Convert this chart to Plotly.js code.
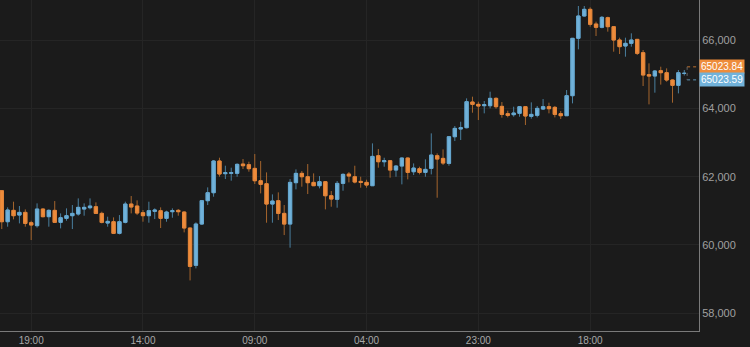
<!DOCTYPE html>
<html>
<head>
<meta charset="utf-8">
<script src="https://cdn.plot.ly/plotly-3.0.1.min.js"></script>
<style>html,body{margin:0;padding:0;background:#1b1b1b;}#chart{width:750px;height:347px;}</style>
</head>
<body>
<div id="chart"></div>
<script>
// Hourly candles (index 0 = 14:00 of the first day)
const openP = [61589,60681,61013,60876,60954,60652,60564,61052,60828,61013,
  60662,60779,60857,60906,61052,61091,61120,60925,60642,60681,
  60340,60662,61198,61140,60945,60857,60984,61003,60779,60974,
  61013,60964,60496,59403,60613,61296,61530,62458,62087,62097,
  62096,62369,62350,62242,61881,61793,61198,61296,60925,60612,
  61823,62096,61998,61832,61735,61852,61442,61335,61803,62076,
  61998,61861,61832,61735,62613,62437,62466,62193,62310,62545,
  62144,62232,62125,62242,62613,62535,62388,63169,63394,63433,
  64184,64116,64077,64077,64292,64058,63843,63814,63853,64048,
  63765,63794,63979,64048,64028,63843,63784,64370,66049,66703,
  66898,66468,66371,66654,66390,66000,65824,65902,66019,65629,
  64985,64946,65102,65043,64829,64672,65023];
const highP = [61600,61101,61267,61140,61042,60710,61218,61070,61042,61286,
  60925,61072,61169,61364,61218,61364,61247,60974,60828,60808,
  60876,61267,61433,61306,61023,61267,61072,61101,61003,61072,
  61052,60984,60506,60662,61316,61686,62487,62555,62321,62262,
  62389,62516,62438,62662,62457,62125,61481,61540,61169,61930,
  62213,62164,62369,62096,62018,61872,61579,61872,62096,62135,
  62320,61998,61910,62974,62808,62554,62486,62340,62560,62560,
  62388,62291,62506,63267,62681,62798,63180,63482,63608,64292,
  64341,64194,64214,64487,64322,64184,63931,64048,64068,64068,
  64175,64068,64272,64165,64068,63921,64536,66060,66995,66995,
  66956,66537,66703,66683,66410,66068,66068,66195,66030,65707,
  65317,65121,65219,65170,64849,65121,65121];
const lowP = [60466,60535,60750,60632,60535,60144,60506,60810,60535,60650,
  60486,60710,60466,60857,60857,61042,60906,60632,60535,60320,
  60310,60632,60925,60876,60681,60652,60759,60496,60681,60798,
  60857,60369,58963,59315,60584,61169,61413,61999,61930,61882,
  61998,62223,62145,61784,61510,60652,60652,60730,60290,59920,
  61628,61706,61491,61725,61657,61042,61120,61091,61588,61832,
  61803,61676,61676,61735,62262,62291,61969,61998,61774,61920,
  62047,62066,61998,62066,61383,62340,62320,63042,63072,63413,
  63872,63657,63853,63999,63989,63726,63735,63755,63755,63511,
  63696,63735,63950,63853,63735,63687,63784,64145,65727,66683,
  66390,66117,66341,66244,65658,65590,65512,65805,65561,64653,
  64116,64458,64694,64780,64165,64438,64960];
const closeP = [60681,61023,60857,60954,60632,60584,61052,60828,61013,60662,
  60798,60857,60925,61101,61101,61140,60925,60662,60691,60340,
  60681,61198,61111,60935,60857,61003,61023,60779,60964,61003,
  60974,60496,59373,60613,61296,61530,62458,62077,62116,62116,
  62360,62320,62233,61881,61774,61198,61286,60925,60612,61832,
  62096,61998,61823,61735,61852,61442,61344,61803,62067,62018,
  61842,61832,61754,62593,62437,62466,62193,62310,62545,62125,
  62252,62125,62213,62632,62515,62398,63169,63413,63433,64194,
  64116,64067,64106,64292,64048,63823,63794,63862,64048,63775,
  63823,63999,64048,63989,63823,63784,64370,66049,66703,66898,
  66459,66371,66663,66390,66000,65805,65902,66000,65609,64975,
  64946,65092,65043,64829,64672,65043,65024];

const tickPos = [5, 24, 43, 62, 81, 100];
const tickText = ['19:00', '14:00', '09:00', '04:00', '23:00', '18:00'];
const priceTicks = [58000, 60000, 62000, 64000, 66000];
const lastPrices = [65023.84, 65023.59];

const BLUE = '#71b2da', BLUE_DIM = '#4a7f9e';
const ORANGE = '#ee8c3b', ORANGE_DIM = '#a5652d';

const bodyHigh = openP.map((o, i) => Math.max(o, closeP[i]));
const bodyLow = openP.map((o, i) => Math.min(o, closeP[i]));

const traces = [
  { type: 'candlestick', open: openP, high: highP, low: lowP, close: closeP,
    increasing: { line: { color: BLUE_DIM, width: 1 }, fillcolor: BLUE },
    decreasing: { line: { color: ORANGE_DIM, width: 1 }, fillcolor: ORANGE },
    hoverinfo: 'skip', showlegend: false },
  { type: 'candlestick', open: openP, high: bodyHigh, low: bodyLow, close: closeP,
    increasing: { line: { color: '#66a7cf', width: 1 }, fillcolor: BLUE },
    decreasing: { line: { color: '#e2843a', width: 1 }, fillcolor: ORANGE },
    hoverinfo: 'skip', showlegend: false }
];

const layout = {
  width: 750, height: 347,
  paper_bgcolor: '#1b1b1b', plot_bgcolor: '#1b1b1b',
  margin: { l: 0, r: 51, t: 0, b: 16, pad: 0 },
  showlegend: false,
  boxgap: 0.2, boxmode: 'overlay',
  font: { family: 'Liberation Sans, Arial, sans-serif', color: '#a0a0a0' },
  xaxis: {
    range: [-0.3, 118.5], tickmode: 'array', tickvals: tickPos, ticktext: tickText,
    showgrid: true, gridcolor: '#252525', gridwidth: 1,
    showline: true, linecolor: '#7a7a7a', linewidth: 1,
    zeroline: false, ticks: '', tickfont: { size: 10, color: '#a8a8a8' },
    rangeslider: { visible: false }, fixedrange: true
  },
  yaxis: {
    side: 'right', range: [57482, 67171], tickmode: 'array', tickvals: priceTicks,
    tickformat: ',d', showgrid: true, gridcolor: '#252525', gridwidth: 1,
    showline: true, linecolor: '#7a7a7a', linewidth: 1,
    zeroline: false, ticks: '', tickfont: { size: 11, color: '#a0a0a0' }, fixedrange: true
  },
  annotations: [
    { xref: 'paper', x: 1, xanchor: 'left', yref: 'y', y: lastPrices[0], yshift: 6.5,
      text: lastPrices[0].toFixed(2), showarrow: false, bgcolor: ORANGE, borderpad: 1,
      font: { size: 10, color: '#ffffff' } },
    { xref: 'paper', x: 1, xanchor: 'left', yref: 'y', y: lastPrices[1], yshift: -6.5,
      text: lastPrices[1].toFixed(2), showarrow: false, bgcolor: BLUE, borderpad: 1,
      font: { size: 10, color: '#ffffff' } }
  ],
  shapes: [
    { type: 'line', xref: 'paper', x0: 0.983, x1: 1, yref: 'y', ysizemode: 'pixel',
      yanchor: lastPrices[0], y0: 6.5, y1: 6.5, line: { color: '#c0722f', width: 1, dash: '3px,3px' } },
    { type: 'line', xref: 'paper', x0: 0.983, x1: 1, yref: 'y', ysizemode: 'pixel',
      yanchor: lastPrices[1], y0: -6.5, y1: -6.5, line: { color: '#5b93b5', width: 1, dash: '3px,3px' } },
    { type: 'line', xref: 'paper', x0: 0.983, x1: 0.983, yref: 'y', ysizemode: 'pixel',
      yanchor: lastPrices[0], y0: 6.5, y1: -6.5, line: { color: '#666666', width: 1, dash: '3px,3px' } }
  ]
};

Plotly.newPlot('chart', traces, layout, { staticPlot: true, displayModeBar: false });
</script>
</body>
</html>
